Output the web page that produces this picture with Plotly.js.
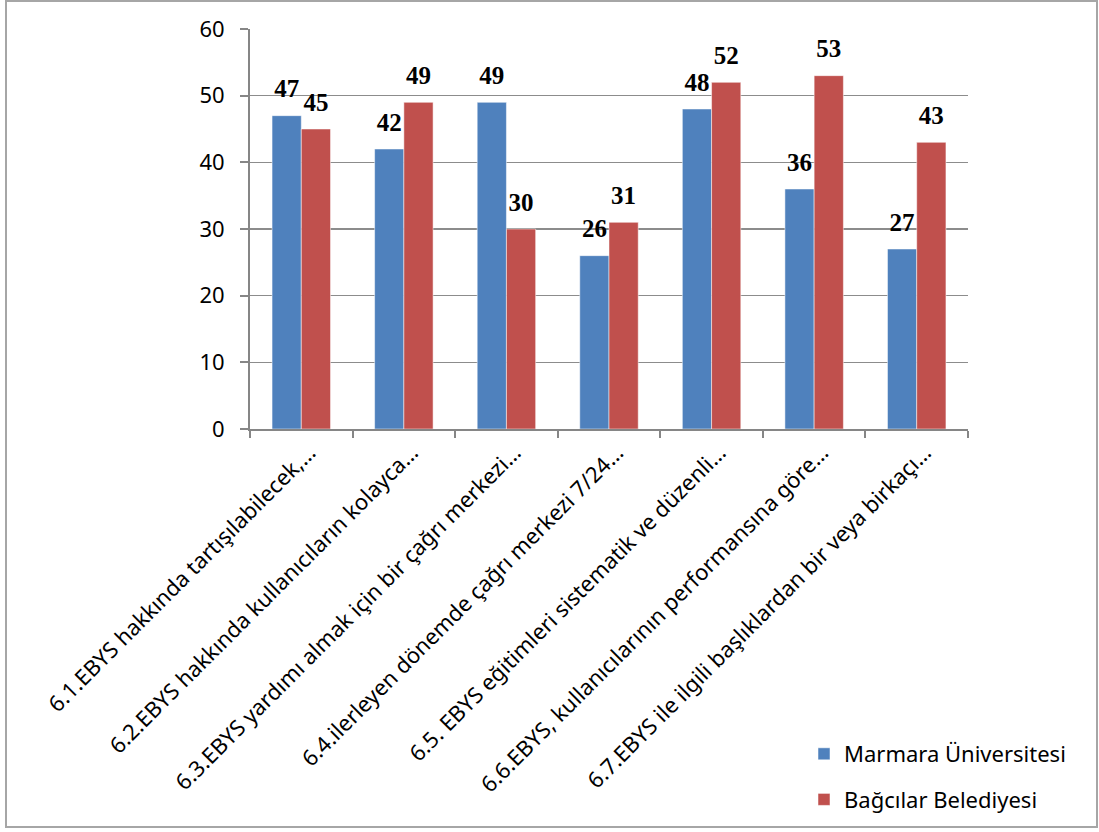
<!DOCTYPE html>
<html><head><meta charset="utf-8">
<script src="https://cdn.plot.ly/plotly-3.0.1.min.js"></script>
<style>html,body{margin:0;padding:0;background:#fff}#c{width:1099px;height:832px}</style>
</head><body><div id="c"></div>
<script>
const categories = [
  "6.1.EBYS hakkında tartışılabilecek,…",
  "6.2.EBYS hakkında kullanıcıların kolayca…",
  "6.3.EBYS yardımı almak için bir çağrı merkezi…",
  "6.4.ilerleyen dönemde çağrı merkezi 7/24…",
  "6.5. EBYS eğitimleri sistematik ve düzenli…",
  "6.6.EBYS, kullanıcılarının performansına göre…",
  "6.7.EBYS ile ilgili başlıklardan bir veya birkaçı…"
];
const marmara = [47, 42, 49, 26, 48, 36, 27];
const bagcilar = [45, 49, 30, 31, 52, 53, 43];
const seriesNames = ["Marmara Üniversitesi", "Bağcılar Belediyesi"];
const yTicks = [0, 10, 20, 30, 40, 50, 60];

const L = 250, R = 131, T = 29, B = 402;
const W = 1099 - L - R, H = 832 - T - B;
const px = x => (x - L) / W;
const py = y => (832 - B - y) / H;

const lblFont = {family: "Liberation Serif, Times New Roman, serif", size: 25, color: "#000", weight: "bold"};
const colors = ["#4F81BD", "#C0504D"];
const series = [marmara, bagcilar];
const traces = [];
series.forEach((vals, i) => {
  traces.push({type: "bar", name: seriesNames[i], legendgroup: "g" + i, x: categories, y: vals,
    marker: {color: colors[i], line: {color: "#ffffff", width: 0.5}}});
});
series.forEach((vals, i) => {
  traces.push({type: "scatter", mode: "markers+text", showlegend: false, legendgroup: "g" + i,
    x: categories, y: vals, text: vals.map(String), textposition: "top center", textfont: lblFont,
    marker: {size: 18, opacity: 0, color: colors[i]}, cliponaxis: false});
});
const layout = {
  width: 1099, height: 832,
  margin: {l: L, r: R, t: T, b: B},
  paper_bgcolor: "#fff", plot_bgcolor: "#fff",
  font: {family: "Noto Sans, Open Sans, sans-serif", size: 17, color: "#000"},
  barmode: "group", bargap: 0.43, bargroupgap: 0,
  scattermode: "group", scattergap: 0.43,
  showlegend: true,
  legend: {x: px(804), y: py(733), xanchor: "left", yanchor: "top", font: {size: 22},
           traceorder: "grouped", tracegroupgap: 14},
  xaxis: {type: "category", tickangle: -45, showline: true, linecolor: "#868686", linewidth: 2,
          ticks: "outside", tickson: "boundaries", ticklen: 7, tickcolor: "#868686", tickwidth: 2,
          tickfont: {size: 22}, ticklabelshift: 8, showgrid: false, automargin: false},
  yaxis: {range: [0, 60], tickvals: yTicks, showline: true, linecolor: "#868686", linewidth: 2,
          ticks: "outside", ticklen: 8, tickcolor: "#868686", tickwidth: 2,
          showgrid: true, gridcolor: "#8c8c8c", gridwidth: 1.5, zeroline: false,
          tickfont: {size: 22}, ticklabelstandoff: 11, automargin: false},
  shapes: [{type: "rect", xref: "paper", yref: "paper", x0: px(6), x1: px(1097), y0: py(829), y1: py(1),
            line: {color: "#a6a6a6", width: 2}, fillcolor: "rgba(0,0,0,0)"}]
};
Plotly.newPlot("c", traces, layout, {displayModeBar: false, staticPlot: true});
</script></body></html>
